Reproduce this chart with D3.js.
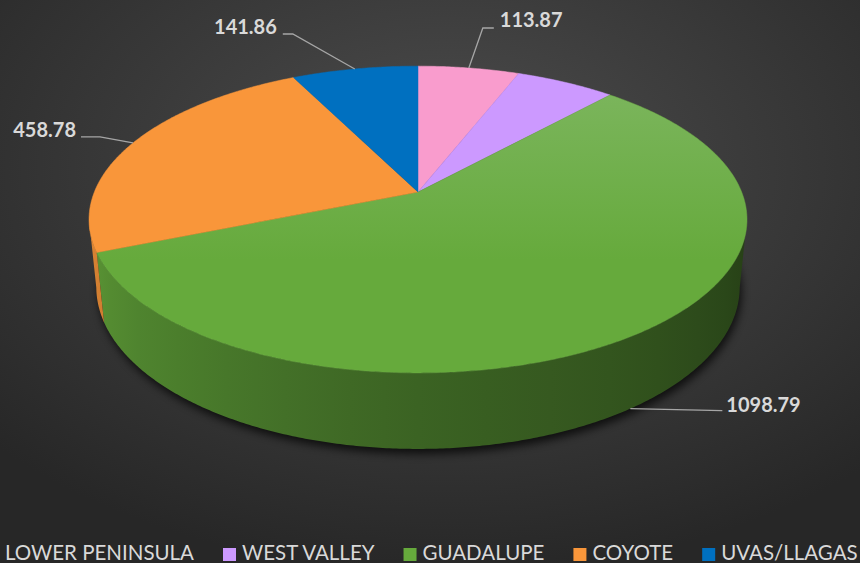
<!DOCTYPE html>
<html>
<head>
<meta charset="utf-8">
<script src="https://cdn.jsdelivr.net/npm/d3@7"></script>
<style>
  html, body { margin: 0; padding: 0; background: #333; }
  svg { display: block; }
</style>
</head>
<body>
<div id="chart"></div>
<script>
// data
const regions = ["LOWER PENINSULA", "WEST VALLEY", "GUADALUPE", "COYOTE", "UVAS/LLAGAS"];
const amounts = [113.87, 112.0, 1098.79, 458.78, 141.86];
const labelled = [true, false, true, true, true];
const colors = ["#f99ccd", "#cc99ff", "#66aa3c", "#f9963a", "#0070c0"];

const width = 860, height = 563;

// 3d projection of the disc (radius 1, thickness thick)
const cx = 418, cy = 192;
const tilt = 27.3 * Math.PI / 180;
const cT = Math.cos(tilt), sT = Math.sin(tilt);
const dist = 4.953, k = 1603, thick = 0.2365;
const rad = Math.PI / 180;

function proj(a, y) {
  const X = Math.sin(a), Z = -Math.cos(a);
  const up = y * cT - Z * sT;
  const depth = dist - y * sT - Z * cT;
  return [cx + k * X / depth, cy - k * up / depth];
}

function arcPoints(a0, a1, y) {
  const n = Math.max(2, Math.ceil((a1 - a0) / (0.5 * rad)));
  return d3.range(n + 1).map(i => proj(a0 + (a1 - a0) * i / n, y));
}

// visible part of the wall lies between the two silhouette angles
const silR = Math.acos(-cT / dist);
const silL = 2 * Math.PI - silR;

const svg = d3.select("#chart").append("svg")
  .attr("width", width)
  .attr("height", height);

const defs = svg.append("defs");

const bg = defs.append("radialGradient")
  .attr("id", "bg")
  .attr("cx", "52%").attr("cy", "30%").attr("r", "72%");
bg.append("stop").attr("offset", "0%").attr("stop-color", "#4d4d4d");
bg.append("stop").attr("offset", "100%").attr("stop-color", "#272727");

const greenTop = defs.append("linearGradient")
  .attr("id", "greenTop")
  .attr("gradientUnits", "userSpaceOnUse")
  .attr("x1", 0).attr("y1", 90).attr("x2", 0).attr("y2", 260);
greenTop.append("stop").attr("offset", "0%").attr("stop-color", "#7bb55c");
greenTop.append("stop").attr("offset", "100%").attr("stop-color", "#66aa3c");

defs.append("filter")
  .attr("id", "blur")
  .attr("x", "-20%").attr("y", "-20%").attr("width", "140%").attr("height", "140%")
  .append("feGaussianBlur").attr("stdDeviation", 4);

svg.append("rect")
  .attr("width", width)
  .attr("height", height)
  .attr("fill", "url(#bg)");

const pie = d3.pie()
  .sort(null)
  .value(d => d.value)
  .startAngle(0)
  .endAngle(2 * Math.PI);

const data = regions.map((r, i) => ({ name: r, value: amounts[i], color: colors[i], label: labelled[i] }));
const arcs = pie(data);

const line = d3.line();

// shadow under the disc
svg.append("path")
  .attr("d", line(arcPoints(0, 2 * Math.PI, -thick)) + "Z")
  .attr("transform", "translate(2,5)")
  .attr("fill", "#000")
  .attr("opacity", 0.7)
  .attr("filter", "url(#blur)");

// side wall shading, light on the left, dark on the right
const shade = d3.scaleLinear()
  .domain([100, 180, 260].map(v => v * rad))
  .range([0.36, 0.58, 0.9])
  .clamp(true);

const xR = proj(silR, 0)[0], xL = proj(silL, 0)[0];

arcs.forEach((d, i) => {
  const g = defs.append("linearGradient")
    .attr("id", "side" + i)
    .attr("gradientUnits", "userSpaceOnUse")
    .attr("x1", xL).attr("y1", 0).attr("x2", xR).attr("y2", 0);
  const base = d3.rgb(d.data.color);
  d3.range(0, 17).forEach(j => {
    const a = silL - (silL - silR) * j / 16;
    const f = shade(a);
    g.append("stop")
      .attr("offset", (proj(a, 0)[0] - xL) / (xR - xL))
      .attr("stop-color", d3.rgb(base.r * f, base.g * f, base.b * f).formatHex());
  });
});

const walls = svg.append("g");
arcs.forEach((d, i) => {
  const a0 = Math.max(d.startAngle, silR), a1 = Math.min(d.endAngle, silL);
  if (a1 <= a0) return;
  const top = arcPoints(a0, a1, 0);
  const bottom = arcPoints(a0, a1, -thick).reverse();
  walls.append("path")
    .attr("d", line(top.concat(bottom)) + "Z")
    .attr("fill", "url(#side" + i + ")");
});

// top faces
svg.append("g").selectAll("path")
  .data(arcs)
  .enter().append("path")
  .attr("d", d => line([[cx, cy]].concat(arcPoints(d.startAngle, d.endAngle, 0))) + "Z")
  .attr("fill", d => d.data.name === "GUADALUPE" ? "url(#greenTop)" : d.data.color)
  .attr("stroke", d => d.data.name === "GUADALUPE" ? "#6cad44" : d.data.color)
  .attr("stroke-width", 0.5);

// data labels with leader lines
const labelLayout = {
  "LOWER PENINSULA": { elbow: [14, -40], end: [25, -40], text: [31, -40.5], anchor: "start", side: false },
  "UVAS/LLAGAS": { elbow: [-62, -35], end: [-72, -35], text: [-78, -35], anchor: "end", side: false },
  "COYOTE": { elbow: [-33, -6], end: [-52, -6], text: [-57, -6], anchor: "end", side: false },
  "GUADALUPE": { elbow: [46, 1], end: [92, 2], text: [96, 3], anchor: "start", side: true }
};

const labels = svg.append("g");
arcs.filter(d => d.data.label).forEach(d => {
  const lay = labelLayout[d.data.name];
  const mid = (d.startAngle + d.endAngle) / 2;
  const p = proj(mid, lay.side ? -thick : 0);
  labels.append("path")
    .attr("d", line([p, [p[0] + lay.elbow[0], p[1] + lay.elbow[1]], [p[0] + lay.end[0], p[1] + lay.end[1]]]))
    .attr("fill", "none")
    .attr("stroke", "#a6a6a6")
    .attr("stroke-width", 1.3);
  labels.append("text")
    .attr("x", p[0] + lay.text[0])
    .attr("y", p[1] + lay.text[1])
    .attr("text-anchor", lay.anchor)
    .attr("font-family", "Lato, 'Open Sans', sans-serif")
    .attr("font-weight", "bold")
    .attr("font-size", 20)
    .attr("fill", "#d9d9d9")
    .text(d3.format(".2f")(d.data.value));
});

// legend
const legend = svg.append("g");
const items = legend.selectAll("g")
  .data(data)
  .enter().append("g");

items.append("rect")
  .attr("y", 548)
  .attr("width", 13)
  .attr("height", 13)
  .attr("fill", d => d.color);

items.append("text")
  .attr("x", 19)
  .attr("y", 560)
  .attr("font-family", "Lato, 'Open Sans', sans-serif")
  .attr("font-size", 20.5)
  .attr("fill", "#d9d9d9")
  .text(d => d.name);

let xpos = 0;
const offsets = [];
items.each(function() {
  const w = d3.select(this).select("text").node().getComputedTextLength();
  offsets.push(xpos);
  xpos += 19 + w + 29;
});
// first swatch sits just off the left edge, like the original
const start = 5 - 19;
items.attr("transform", (d, i) => "translate(" + (start + offsets[i]) + ",0)");
</script>
</body>
</html>
